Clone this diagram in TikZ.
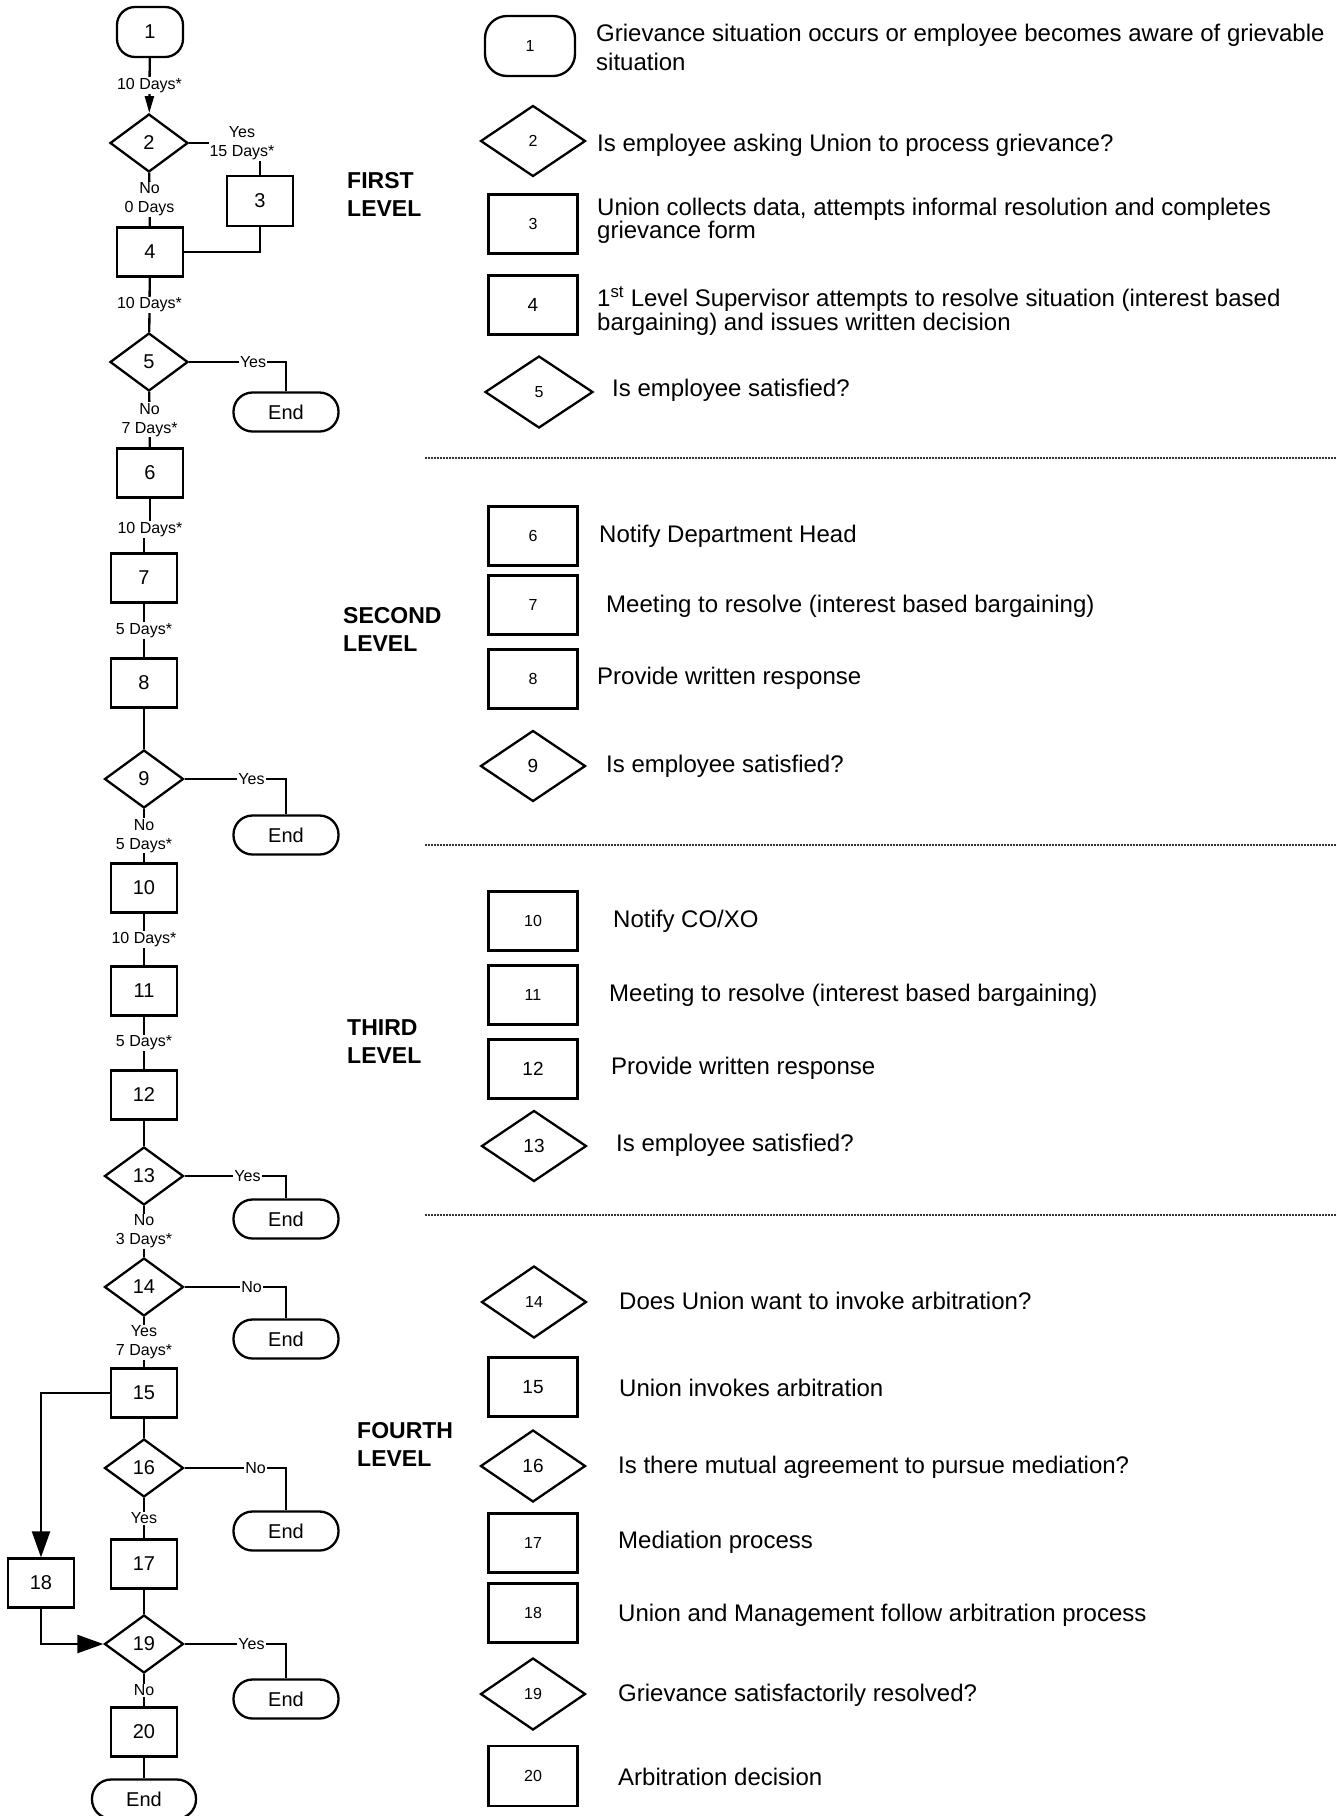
\documentclass[tikz,border=0pt]{standalone}
\usepackage{fontspec}
\setmainfont{Liberation Sans}
\usetikzlibrary{shapes.geometric,arrows.meta}
\begin{document}
\begin{tikzpicture}[x=1pt,y=-1pt,
  every node/.style={font=\fontsize{20}{24}\selectfont},
  lw/.style={line width=2.3pt},
  box/.style={draw, lw, rectangle, minimum width=66pt, minimum height=49pt, inner sep=0pt},
  dia/.style={draw, lw, diamond, minimum width=78pt, minimum height=58pt, inner sep=0pt, aspect=1.35},
  term/.style={draw, lw, rounded corners=19pt, minimum width=105pt, minimum height=39pt, inner sep=0pt},
  lbl/.style={fill=white, inner sep=1pt, align=center, font=\fontsize{16}{19}\selectfont},
  conn/.style={line width=2.3pt},
  bigarr/.style={conn, -{Triangle[length=26pt,width=18pt]}},
  smallarr/.style={conn, -{Triangle[length=17pt,width=9pt]}},
  lbox/.style={draw, lw, rectangle, minimum width=89pt, minimum height=59pt, inner sep=0pt, font=\fontsize{16}{19}\selectfont},
  ldia/.style={draw, lw, diamond, minimum width=105pt, minimum height=71pt, inner sep=0pt, aspect=1.5, font=\fontsize{16}{19}\selectfont},
  bignum/.style={font=\fontsize{19}{22}\selectfont},
  desc/.style={anchor=west, align=left, inner sep=0pt, font=\fontsize{24}{29}\selectfont},
  levelname/.style={anchor=west, align=left, inner sep=0pt, font=\fontsize{23}{28}\selectfont\bfseries},
  sep/.style={line width=1.2pt, dash pattern=on 1.5pt off 1.5pt, black!80}
]
\useasboundingbox (0,0) rectangle (1337,1816);

% ---------------- flow column ----------------
\node[box, rounded corners=18pt, minimum height=50pt] (n1) at (150,32) {1};
\node[dia] (n2) at (149,143) {2};
\node[box, minimum height=50pt] (n3) at (260,201) {3};
\node[box] (n4) at (150,252) {4};
\node[dia] (n5) at (149,362) {5};
\node[term] (e5) at (286,412) {End};
\node[box] (n6) at (150,473) {6};
\node[box] (n7) at (144,578) {7};
\node[box] (n8) at (144,683) {8};
\node[dia, minimum width=79pt] (n9) at (144,779) {9};
\node[term] (e9) at (286,835) {End};
\node[box] (n10) at (144,888) {10};
\node[box] (n11) at (144,991) {11};
\node[box] (n12) at (144,1095) {12};
\node[dia, minimum width=79pt] (n13) at (144,1176) {13};
\node[term] (e13) at (286,1219) {End};
\node[dia, minimum width=79pt] (n14) at (144,1287) {14};
\node[term] (e14) at (286,1339) {End};
\node[box] (n15) at (144,1393) {15};
\node[dia, minimum width=79pt] (n16) at (144,1468) {16};
\node[term] (e16) at (286,1531) {End};
\node[box] (n17) at (144,1564) {17};
\node[box] (n18) at (41,1583) {18};
\node[dia, minimum width=79pt] (n19) at (144,1644) {19};
\node[term] (e19) at (286,1699) {End};
\node[box] (n20) at (144,1732) {20};
\node[term, minimum width=104pt] (e20) at (144,1799) {End};

% connectors
\draw[smallarr] (n1) -- node[lbl] {10 Days*} (n2);
\draw[conn] (n2.east) -| node[lbl, pos=0.5, xshift=-18pt] {Yes\\15 Days*} (n3.north);
\draw[conn] (n2) -- node[lbl] {No\\0 Days} (n4);
\draw[conn] (n3.south) |- (n4.east);
\draw[conn] (n4) -- node[lbl] {10 Days*} (n5);
\draw[conn] (n5.east) -| node[lbl, pos=0.33] {Yes} (e5.north);
\draw[conn] (n5) -- node[lbl] {No\\7 Days*} (n6);
\draw[conn] (n6.south) -- ++(0,31) node[lbl] {10 Days*} -| (n7.north);
\draw[conn] (n7) -- node[lbl] {5 Days*} (n8);
\draw[conn] (n8) -- (n9);
\draw[conn] (n9.east) -| node[lbl, pos=0.33] {Yes} (e9.north);
\draw[conn] (n9) -- node[lbl] {No\\5 Days*} (n10);
\draw[conn] (n10) -- node[lbl] {10 Days*} (n11);
\draw[conn] (n11) -- node[lbl] {5 Days*} (n12);
\draw[conn] (n12) -- (n13);
\draw[conn] (n13.east) -| node[lbl, pos=0.31] {Yes} (e13.north);
\draw[conn] (n13) -- node[lbl] {No\\3 Days*} (n14);
\draw[conn] (n14.east) -| node[lbl, pos=0.33] {No} (e14.north);
\draw[conn] (n14) -- node[lbl] {Yes\\7 Days*} (n15);
\draw[bigarr] (n15.west) -| (n18.north);
\draw[conn] (n15) -- (n16);
\draw[conn] (n16.east) -| node[lbl, pos=0.35] {No} (e16.north);
\draw[conn] (n16) -- node[lbl] {Yes} (n17);
\draw[conn] (n17) -- (n19);
\draw[bigarr] (n18.south) |- (n19.west);
\draw[conn] (n19.east) -| node[lbl, pos=0.33] {Yes} (e19.north);
\draw[conn] (n19) -- node[lbl] {No} (n20);
\draw[conn] (n20) -- (e20);

% level names
\node[levelname] (lv1) at (347,194) {FIRST\\LEVEL};
\node[levelname] (lv2) at (343,629) {SECOND\\LEVEL};
\node[levelname] (lv3) at (347,1042) {THIRD\\LEVEL};
\node[levelname] (lv4) at (357,1444) {FOURTH\\LEVEL};

% separators
\draw[sep] (425,458) -- (1337,458);
\draw[sep] (425,845) -- (1337,845);
\draw[sep] (425,1215) -- (1337,1215);

% ---------------- legend ----------------
\node[lbox, rounded corners=22pt, minimum width=90pt, minimum height=60pt] (l1) at (530,46) {1};
\node[desc] (d1) at (596,47) {Grievance situation occurs or employee becomes aware of grievable\\situation};
\node[ldia] (l2) at (533,141) {2};
\node[desc] (d2) at (597,145) {Is employee asking Union to process grievance?};
\node[lbox] (l3) at (533,224) {3};
\node[desc, font=\fontsize{24}{23}\selectfont] (d3) at (597,221) {Union collects data, attempts informal resolution and completes\\grievance form};
\node[lbox, bignum] (l4) at (533,305) {4};
\node[desc, font=\fontsize{24}{20}\selectfont] (d4) at (597,311) {1\textsuperscript{st} Level Supervisor attempts to resolve situation (interest based\\bargaining) and issues written decision};
\node[ldia, minimum width=108pt, minimum height=72pt] (l5) at (539,392) {5};
\node[desc] (d5) at (612,390) {Is employee satisfied?};

\node[lbox] (l6) at (533,536) {6};
\node[desc] (d6) at (599,536) {Notify Department Head};
\node[lbox] (l7) at (533,605) {7};
\node[desc] (d7) at (606,606) {Meeting to resolve (interest based bargaining)};
\node[lbox] (l8) at (533,679) {8};
\node[desc] (d8) at (597,678) {Provide written response};
\node[ldia, bignum] (l9) at (533,766) {9};
\node[desc] (d9) at (606,766) {Is employee satisfied?};

\node[lbox] (l10) at (533,921) {10};
\node[desc] (d10) at (613,921) {Notify CO/XO};
\node[lbox] (l11) at (533,995) {11};
\node[desc] (d11) at (609,995) {Meeting to resolve (interest based bargaining)};
\node[lbox, bignum] (l12) at (533,1069) {12};
\node[desc] (d12) at (611,1068) {Provide written response};
\node[ldia, bignum] (l13) at (534,1146) {13};
\node[desc] (d13) at (616,1145) {Is employee satisfied?};

\node[ldia, minimum height=72pt] (l14) at (534,1302) {14};
\node[desc] (d14) at (619,1301) {Does Union want to invoke arbitration?};
\node[lbox, bignum] (l15) at (533,1387) {15};
\node[desc] (d15) at (619,1388) {Union invokes arbitration};
\node[ldia, bignum, minimum height=72pt] (l16) at (533,1466) {16};
\node[desc] (d16) at (618,1467) {Is there mutual agreement to pursue mediation?};
\node[lbox] (l17) at (533,1543) {17};
\node[desc] (d17) at (618,1542) {Mediation process};
\node[lbox] (l18) at (533,1613) {18};
\node[desc] (d18) at (618,1615) {Union and Management follow arbitration process};
\node[ldia, minimum height=72pt] (l19) at (533,1694) {19};
\node[desc] (d19) at (618,1695) {Grievance satisfactorily resolved?};
\node[lbox, minimum height=60pt] (l20) at (533,1776) {20};
\node[desc] (d20) at (618,1777) {Arbitration decision};
\end{tikzpicture}
\end{document}
